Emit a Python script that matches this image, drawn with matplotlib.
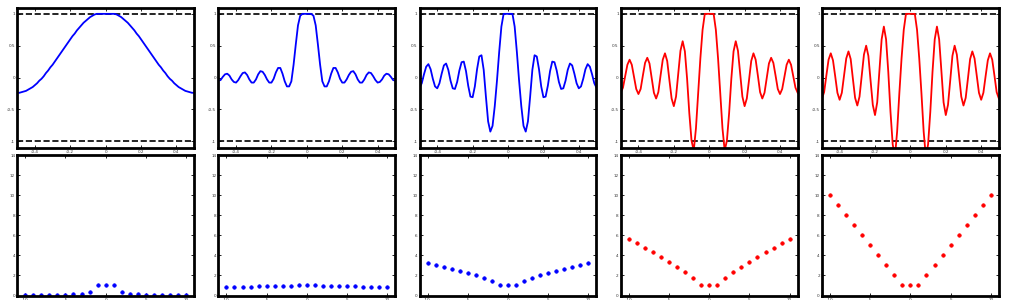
import numpy as np
import matplotlib
matplotlib.use("Agg")
import matplotlib.pyplot as plt

# sample positions of the curves (top row) and of the coefficients (bottom row)
top_x = np.linspace(-0.5, 0.5, 81)
bottom_x = np.arange(-10, 11)

# top row curves
curve_1 = [-0.24, -0.24, -0.23, -0.22, -0.21, -0.19, -0.17, -0.15, -0.12, -0.09,
           -0.05, -0.02, 0.02, 0.07, 0.11, 0.16, 0.20, 0.25, 0.30, 0.35,
           0.40, 0.45, 0.50, 0.55, 0.60, 0.65, 0.69, 0.74, 0.78, 0.82,
           0.86, 0.89, 0.92, 0.95, 0.97, 0.99, 1.0, 1.0, 1.0, 1.0,
           1.0,
           1.0, 1.0, 1.0, 1.0, 0.99, 0.97, 0.95, 0.92, 0.89, 0.86,
           0.82, 0.78, 0.74, 0.69, 0.65, 0.60, 0.55, 0.50, 0.45, 0.40,
           0.35, 0.30, 0.25, 0.20, 0.16, 0.11, 0.07, 0.02, -0.02, -0.05,
           -0.09, -0.12, -0.15, -0.17, -0.19, -0.21, -0.22, -0.23, -0.24, -0.24]
curve_2 = [-0.05, -0.04, 0.01, 0.05, 0.06, 0.03, -0.03, -0.07, -0.08, -0.04,
           0.02, 0.07, 0.08, 0.04, -0.03, -0.08, -0.08, -0.03, 0.05, 0.10,
           0.09, 0.04, -0.03, -0.08, -0.08, -0.02, 0.08, 0.15, 0.15, 0.06,
           -0.06, -0.14, -0.14, -0.06, 0.20, 0.52, 0.82, 0.97, 1.0, 1.0,
           1.0,
           1.0, 1.0, 0.97, 0.82, 0.52, 0.20, -0.06, -0.14, -0.14, -0.06,
           0.06, 0.15, 0.15, 0.08, -0.02, -0.08, -0.08, -0.03, 0.04, 0.09,
           0.10, 0.05, -0.03, -0.08, -0.08, -0.03, 0.04, 0.08, 0.07, 0.02,
           -0.04, -0.08, -0.07, -0.03, 0.03, 0.06, 0.05, 0.01, -0.04, -0.05]
curve_3 = [-0.16, -0.09, 0.05, 0.17, 0.21, 0.13, -0.02, -0.14, -0.17, -0.09,
           0.06, 0.19, 0.22, 0.12, -0.05, -0.17, -0.18, -0.07, 0.11, 0.24,
           0.25, 0.10, -0.13, -0.30, -0.31, -0.14, 0.13, 0.33, 0.35, 0.12,
           -0.30, -0.69, -0.85, -0.76, -0.45, -0.05, 0.40, 0.80, 1.0, 1.0,
           1.0,
           1.0, 1.0, 0.80, 0.40, -0.05, -0.45, -0.76, -0.85, -0.69, -0.30,
           0.12, 0.35, 0.33, 0.13, -0.14, -0.31, -0.30, -0.13, 0.10, 0.25,
           0.24, 0.11, -0.07, -0.18, -0.17, -0.05, 0.12, 0.22, 0.19, 0.06,
           -0.09, -0.17, -0.14, -0.02, 0.13, 0.21, 0.17, 0.05, -0.09, -0.16]
curve_4 = [-0.24, -0.16, 0.02, 0.20, 0.28, 0.20, 0.01, -0.18, -0.26, -0.18,
           0.03, 0.23, 0.31, 0.22, -0.01, -0.24, -0.33, -0.23, 0.03, 0.28,
           0.38, 0.26, -0.04, -0.33, -0.45, -0.30, 0.06, 0.42, 0.57, 0.41,
           -0.02, -0.56, -0.99, -1.15, -0.80, -0.25, 0.30, 0.75, 1.0, 1.0,
           1.0,
           1.0, 1.0, 0.75, 0.30, -0.25, -0.80, -1.15, -0.99, -0.56, -0.02,
           0.41, 0.57, 0.42, 0.06, -0.30, -0.45, -0.33, -0.04, 0.26, 0.38,
           0.28, 0.03, -0.23, -0.33, -0.24, -0.01, 0.22, 0.31, 0.23, 0.03,
           -0.18, -0.26, -0.18, 0.01, 0.20, 0.28, 0.20, 0.02, -0.16, -0.24]
curve_5 = [-0.33, -0.23, 0.03, 0.28, 0.38, 0.27, 0.02, -0.24, -0.35, -0.24,
           0.03, 0.30, 0.41, 0.29, -0.02, -0.32, -0.44, -0.30, 0.03, 0.36,
           0.50, 0.34, -0.05, -0.43, -0.59, -0.39, 0.11, 0.60, 0.80, 0.60,
           0.09, -0.54, -1.05, -1.25, -0.85, -0.25, 0.30, 0.75, 1.0, 1.0,
           1.0,
           1.0, 1.0, 0.75, 0.30, -0.25, -0.85, -1.25, -1.05, -0.54, 0.09,
           0.60, 0.80, 0.60, 0.11, -0.39, -0.59, -0.43, -0.05, 0.34, 0.50,
           0.36, 0.03, -0.30, -0.44, -0.32, -0.02, 0.29, 0.41, 0.30, 0.03,
           -0.24, -0.35, -0.24, 0.02, 0.27, 0.38, 0.28, 0.03, -0.23, -0.33]

# bottom row coefficients
coef_1 = [0.07, 0.07, 0.07, 0.07, 0.07, 0.08, 0.10, 0.17, 0.30, 1.05, 1.05,
          1.05, 0.30, 0.17, 0.10, 0.08, 0.07, 0.07, 0.07, 0.07, 0.07]
coef_2 = [0.87, 0.87, 0.88, 0.89, 0.90, 0.92, 0.94, 0.96, 0.99, 1.02, 1.05,
          1.02, 0.99, 0.96, 0.94, 0.92, 0.90, 0.89, 0.88, 0.87, 0.87]
coef_3 = [3.20, 3.02, 2.85, 2.67, 2.48, 2.27, 2.05, 1.77, 1.45, 1.03, 1.03,
          1.03, 1.45, 1.77, 2.05, 2.27, 2.48, 2.67, 2.85, 3.02, 3.20]
coef_4 = [5.63, 5.20, 4.76, 4.32, 3.85, 3.37, 2.87, 2.31, 1.70, 1.03, 1.03,
          1.03, 1.70, 2.31, 2.87, 3.37, 3.85, 4.32, 4.76, 5.20, 5.63]
coef_5 = [10, 9, 8, 7, 6, 5, 4, 3, 2, 1.03, 1.03,
          1.03, 2, 3, 4, 5, 6, 7, 8, 9, 10]

curves = [curve_1, curve_2, curve_3, curve_4, curve_5]
coefs = [coef_1, coef_2, coef_3, coef_4, coef_5]
colors = ["b", "b", "b", "r", "r"]

top_xticks = [-0.4, -0.2, 0, 0.2, 0.4]
top_xlabels = ["-0.4", "-0.2", "0", "0.2", "0.4"]
top_yticks = [-1, -0.5, 0, 0.5, 1]
top_ylabels = ["-1", "-0.5", "0", "0.5", "1"]
bot_xticks = [-10, -5, 0, 5, 10]
bot_xlabels = ["-10", "-5", "0", "5", "10"]
bot_yticks = [0, 2, 4, 6, 8, 10, 12, 14]
bot_ylabels = ["0", "2", "4", "6", "8", "10", "12", "14"]


def style_axes(ax):
    for s in ax.spines.values():
        s.set_linewidth(2.0)
    ax.tick_params(direction="in", length=2, width=0.6, labelsize=3,
                   pad=1.5, top=True, right=True, labelcolor="#333333")


def main():
    fig, axes = plt.subplots(2, 5, figsize=(10.11, 3.0), dpi=100)
    fig.subplots_adjust(left=0.017, right=0.988, top=0.975, bottom=0.015,
                        wspace=0.137, hspace=0.057)

    for i in range(5):
        ax = axes[0, i]
        ax.axhline(1, color="k", ls="--", lw=1.2)
        ax.axhline(-1, color="k", ls="--", lw=1.2)
        ax.plot(top_x, curves[i], color=colors[i], lw=1.3)
        ax.set_xlim(-0.5, 0.5)
        ax.set_ylim(-1.1, 1.1)
        ax.set_xticks(top_xticks)
        ax.set_xticklabels(top_xlabels)
        ax.set_yticks(top_yticks)
        ax.set_yticklabels(top_ylabels)
        style_axes(ax)

        ax = axes[1, i]
        ax.plot(bottom_x, coefs[i], "o", color=colors[i], ms=2.6, mew=0.4)
        ax.set_xlim(-11, 11)
        ax.set_ylim(0, 14)
        ax.set_xticks(bot_xticks)
        ax.set_xticklabels(bot_xlabels)
        ax.set_yticks(bot_yticks)
        ax.set_yticklabels(bot_ylabels)
        style_axes(ax)

    fig.savefig("out.png", dpi=100)
    plt.close(fig)


if __name__ == "__main__":
    main()
